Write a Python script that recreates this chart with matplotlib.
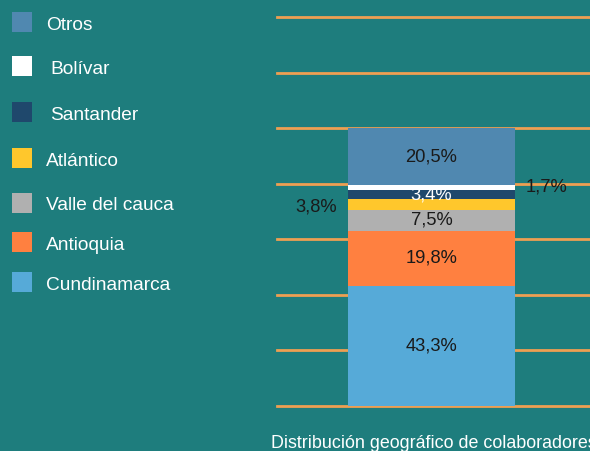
import matplotlib.pyplot as plt
from matplotlib.patches import Rectangle

# Share of collaborators by department (percent), stacked bottom to top
categories = ["Cundinamarca", "Antioquia", "Valle del cauca", "Atlántico",
              "Santander", "Bolívar", "Otros"]
values = [43.3, 19.8, 7.5, 3.8, 3.4, 1.7, 20.5]
labels = ["43,3%", "19,8%", "7,5%", "3,8%", "3,4%", "1,7%", "20,5%"]
colors = ["#56AAD8", "#FF8040", "#B0B0B0", "#FFC72C", "#1F486C", "#FFFFFF", "#5088B0"]

bg = "#1E7D7D"
grid_color = "#EE9F52"
plt.rcParams["font.family"] = ["Liberation Sans", "DejaVu Sans"]

fig = plt.figure(figsize=(5.9, 4.51), dpi=100, facecolor=bg)
ax = fig.add_axes([277 / 590, 45 / 451, 1 - 277 / 590, 389 / 451])
ax.set_facecolor(bg)
ax.set_xlim(0, 1)
ax.set_ylim(0, 140)
for s in ax.spines.values():
    s.set_visible(False)
ax.set_xticks([])
ax.set_yticks(range(0, 141, 20))
ax.tick_params(left=False, labelleft=False)
ax.yaxis.grid(True, color=grid_color, linewidth=2.0, clip_on=False)
ax.set_axisbelow(True)

bar_x, bar_w = 0.4936, 0.5335
label_size = 13.2
bottom = 0
for cat, v, lab, c in zip(categories, values, labels, colors):
    ax.bar(bar_x, v, width=bar_w, bottom=bottom, color=c, linewidth=0, zorder=2)
    mid = bottom + v / 2
    if cat == "Atlántico":
        ax.text(0.125, mid - 1, lab, ha="center", va="center", fontsize=label_size,
                color="#1a1a1a", zorder=3)
    elif cat == "Bolívar":
        ax.text(0.86, mid, lab, ha="center", va="center", fontsize=label_size,
                color="#1a1a1a", zorder=3)
    elif cat == "Santander":
        ax.text(bar_x, mid, lab, ha="center", va="center", fontsize=label_size,
                color="white", zorder=3)
    else:
        ax.text(bar_x, mid, lab, ha="center", va="center", fontsize=label_size,
                color="#1a1a1a", zorder=3)
    bottom += v

# Legend drawn as swatches with text, top to bottom
legend_y = [22, 66, 112, 158, 203, 242, 282]
legend_x = [46, 50, 50, 46, 46, 46, 46]
for (cat, c), yp, xp in zip(list(zip(categories, colors))[::-1], legend_y, legend_x):
    fig.patches.append(Rectangle((12 / 590, 1 - (yp + 10) / 451), 20 / 590, 20 / 451,
                                 transform=fig.transFigure, facecolor=c, edgecolor="none"))
    fig.text(xp / 590, 1 - (yp + 3) / 451, cat, ha="left", va="center", fontsize=13.8,
             color="white")

fig.text(271 / 590, 1 - 443 / 451, "Distribución geográfico de colaboradores",
         ha="left", va="center", fontsize=12.9, color="white")

fig.savefig("out.png", dpi=100, facecolor=bg)
